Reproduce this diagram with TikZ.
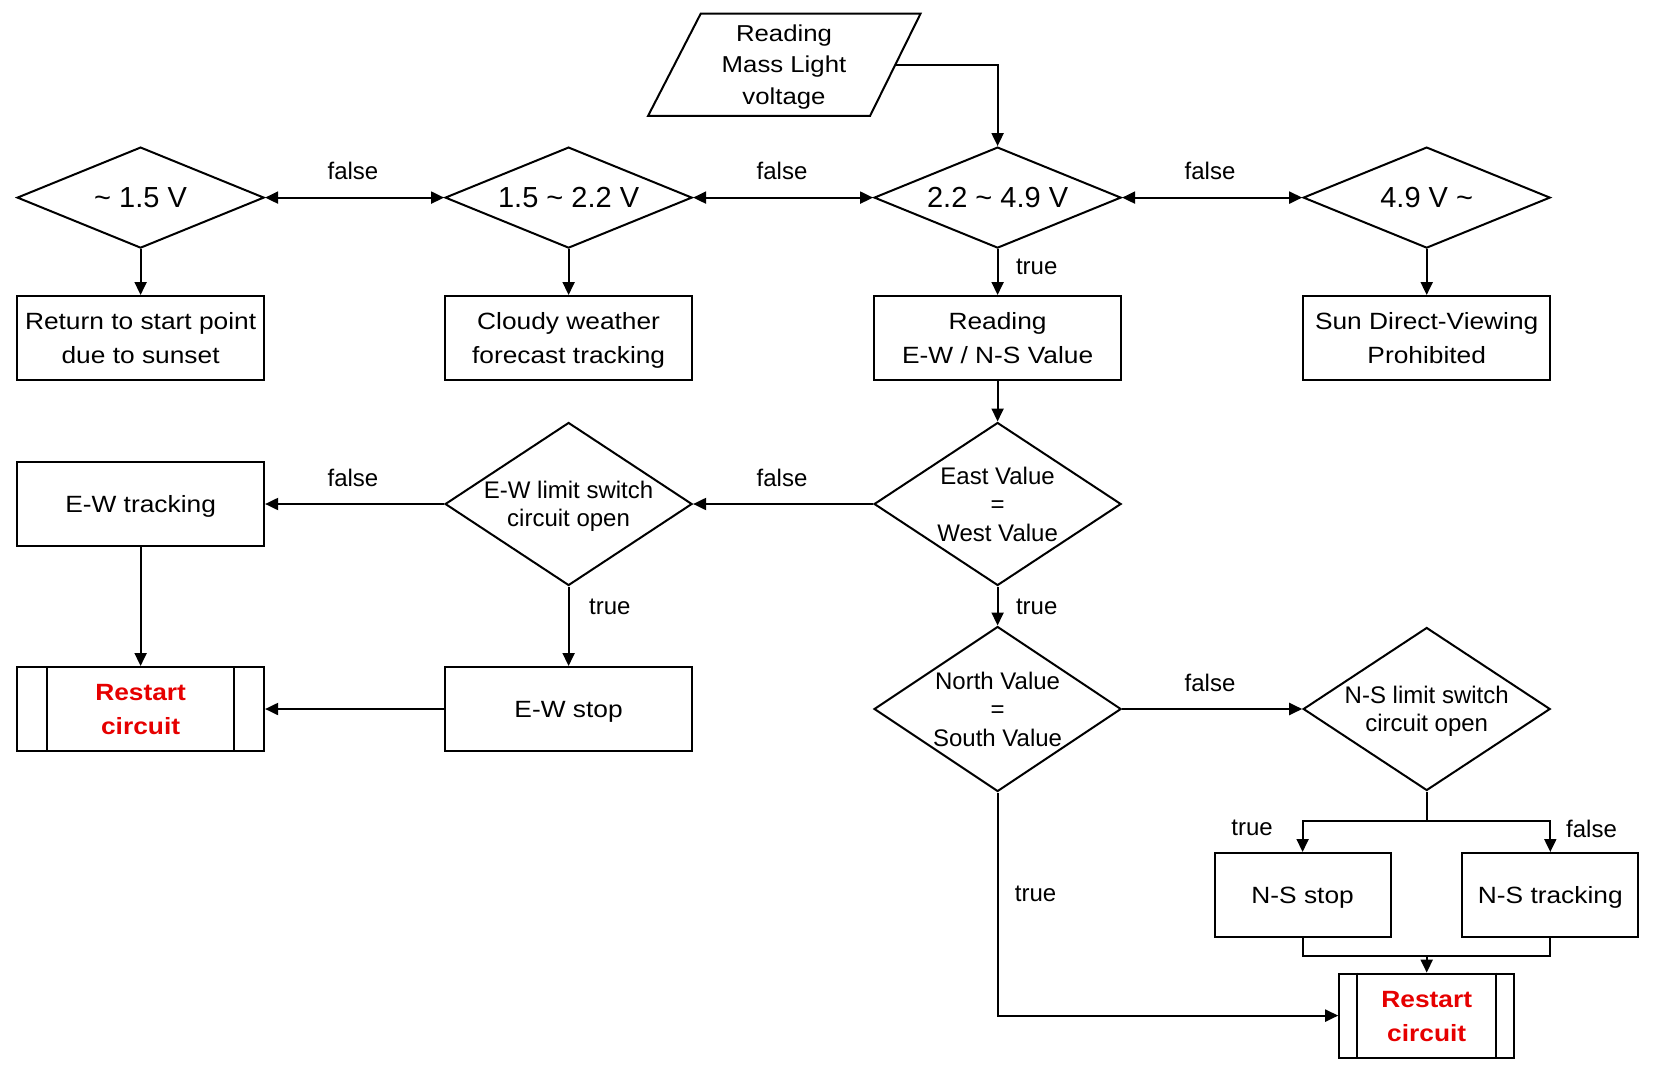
\documentclass[tikz,border=0pt]{standalone}
\usepackage{fontspec}
\setmainfont{Liberation Sans}
\newfontfamily\wfont{Liberation Sans}[FakeStretch=1.12]
\usetikzlibrary{shapes.geometric,arrows.meta}
\definecolor{rred}{RGB}{230,0,0}
\newcommand\toprule{\rule{0pt}{0.96em}}
\newcommand\botrule{\rule[-0.244em]{0pt}{0.244em}}
\begin{document}
\begin{tikzpicture}[x=1pt,y=-1pt,
 line width=2pt,
 balanced/.style={execute at begin node=\toprule, execute at end node=\botrule},
 box/.style={draw, rectangle, minimum width=247pt, minimum height=84pt, inner sep=0pt, align=center, font=\wfont\fontsize{23.5pt}{34pt}\selectfont, balanced},
 sbox/.style={box, minimum width=176pt},
 dia/.style={draw, diamond, inner sep=0pt, minimum width=247pt, minimum height=#1},
 dt/.style={align=center, inner sep=0pt, font=\fontsize{24pt}{28.5pt}\selectfont, balanced},
 bigdt/.style={align=center, inner sep=0pt, font=\fontsize{29pt}{34pt}\selectfont, balanced},
 lbl/.style={inner sep=0pt, font=\fontsize{24pt}{28pt}\selectfont, balanced},
 arr/.style={-{Triangle[length=13pt,width=12pt]}},
 darr/.style={{Triangle[length=13pt,width=12pt]}-{Triangle[length=13pt,width=12pt]}},
 restart/.style={box, text=rred, font=\wfont\bfseries\fontsize{23.5pt}{34pt}\selectfont},
]
\useasboundingbox (0,0) rectangle (1657,1070);

% input parallelogram
\draw (648,116) -- (700.7,13.7) -- (920.5,13.7) -- (870,116) -- cycle;
\node[align=center, inner sep=0pt, font=\wfont\fontsize{23pt}{31.5pt}\selectfont, balanced] (read) at (784,64.5) {\toprule Reading\\Mass Light\\voltage\botrule};
\coordinate (readR) at (895.3,64.9);

% row 1 diamonds
\node[dia=101pt] (d1) at (140.6,197.6) {};
\node[bigdt] (d1t) at (d1) {\textasciitilde{} 1.5 V};
\node[dia=101pt] (d2) at (568.6,197.6) {};
\node[bigdt] (d2t) at (d2) {1.5 \textasciitilde{} 2.2 V};
\node[dia=101pt] (d3) at (997.6,197.6) {};
\node[bigdt] (d3t) at (d3) {2.2 \textasciitilde{} 4.9 V};
\node[dia=101pt] (d4) at (1426.7,197.6) {};
\node[bigdt] (d4t) at (d4) {4.9 V \textasciitilde};

% row 1 boxes
\node[box] (b1) at (140.6,338) {\toprule Return to start point\\due to sunset\botrule};
\node[box] (b2) at (568.6,338) {\toprule Cloudy weather\\forecast tracking\botrule};
\node[box] (b3) at (997.6,338) {\toprule Reading\\E-W / N-S Value\botrule};
\node[box] (b4) at (1426.7,338) {\toprule Sun Direct-Viewing\\Prohibited\botrule};

% row 2
\node[box] (ewt) at (140.6,504) {E-W tracking};
\node[dia=163pt] (ewl) at (568.6,504) {};
\node[dt] (ewlt) at (ewl) {\toprule E-W limit switch\\circuit open\botrule};
\node[dia=163pt] (ev) at (997.6,504) {};
\node[dt] (evt) at (ev) {\toprule East Value\\=\\West Value\botrule};

% row 3
\node[restart] (r1) at (140.6,709) {\toprule Restart\\circuit\botrule};
\draw ([xshift=31pt]r1.north west) -- ([xshift=31pt]r1.south west);
\draw ([xshift=-31pt]r1.north east) -- ([xshift=-31pt]r1.south east);
\node[box] (ews) at (568.6,709) {E-W stop};
\node[dia=165pt] (nv) at (997.6,709) {};
\node[dt] (nvt) at (nv) {\toprule North Value\\=\\South Value\botrule};
\node[dia=163pt] (nsl) at (1426.7,709) {};
\node[dt] (nslt) at (nsl) {\toprule N-S limit switch\\circuit open\botrule};

% N-S outcomes
\node[sbox] (nss) at (1302.6,895) {N-S stop};
\node[sbox] (nstr) at (1550.3,895) {N-S tracking};
\node[restart, minimum width=175pt] (r2) at (1426.7,1015.6) {\toprule Restart\\circuit\botrule};
\draw ([xshift=19pt]r2.north west) -- ([xshift=19pt]r2.south west);
\draw ([xshift=-19pt]r2.north east) -- ([xshift=-19pt]r2.south east);

% connectors
\draw[arr] (readR) -| (d3.north);
\draw[darr] (d1.east) -- (d2.west);
\draw[darr] (d2.east) -- (d3.west);
\draw[darr] (d3.east) -- (d4.west);
\draw[arr] (d1.south) -- (b1.north);
\draw[arr] (d2.south) -- (b2.north);
\draw[arr] (d3.south) -- (b3.north);
\draw[arr] (d4.south) -- (b4.north);
\draw[arr] (b3.south) -- (ev.north);
\draw[arr] (ev.west) -- (ewl.east);
\draw[arr] (ewl.west) -- (ewt.east);
\draw[arr] (ewl.south) -- (ews.north);
\draw[arr] (ewt.south) -- (r1.north);
\draw[arr] (ews.west) -- (r1.east);
\draw[arr] (ev.south) -- (nv.north);
\draw[arr] (nv.east) -- (nsl.west);
\coordinate (split) at (1426.7,821);
\draw (nsl.south) -- (split);
\draw[arr] (split) -| (nss.north);
\draw[arr] (split) -| (nstr.north);
\coordinate (merge) at (1426.7,956.4);
\draw (nss.south) |- (merge) -| (nstr.south);
\draw[arr] (merge) -- (r2.north);
\draw[arr] (nv.south) |- (r2.west);

% labels
\node[lbl] (l1) at (353,171) {false};
\node[lbl] (l2) at (782,171) {false};
\node[lbl] (l3) at (1210,171) {false};
\node[lbl] (l4) at (1036.7,266) {true};
\node[lbl] (l5) at (353,477.7) {false};
\node[lbl] (l6) at (782,477.7) {false};
\node[lbl] (l7) at (609.8,605.5) {true};
\node[lbl] (l8) at (1036.7,605.5) {true};
\node[lbl] (l9) at (1210,682.7) {false};
\node[lbl] (l10) at (1252,826.4) {true};
\node[lbl] (l11) at (1591.5,828.5) {false};
\node[lbl] (l12) at (1035.6,893) {true};
\end{tikzpicture}
\end{document}
